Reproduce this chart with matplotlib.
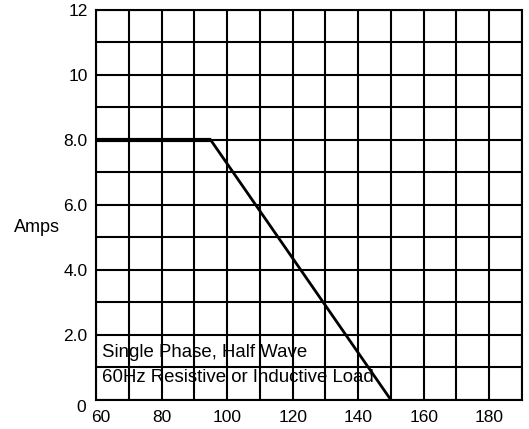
import matplotlib
matplotlib.use("Agg")
import matplotlib.pyplot as plt
import matplotlib.transforms as mtransforms
import numpy as np

# derating curve
temp = [60, 95, 150]
amps = [8.0, 8.0, 0.0]

xticks = [60, 80, 100, 120, 140, 160, 180]
yticks = [0, 2, 4, 6, 8, 10, 12]
ylabels = ["0", "2.0", "4.0", "6.0", "8.0", "10", "12"]

plt.rcParams['font.family'] = ['Liberation Sans', 'DejaVu Sans']

fig = plt.figure(figsize=(5.29, 4.29), dpi=100)
ax = fig.add_axes([0.1815, 0.0676, 0.8053, 0.9091])

ax.set_xlim(60, 190)
ax.set_ylim(0, 12)

# grid: every 10 on x, every 1 on y
for gx in np.arange(60, 191, 10):
    ax.axvline(gx, color='black', lw=1.5, zorder=1)
for gy in np.arange(0, 13, 1):
    ax.axhline(gy, color='black', lw=1.5, zorder=1)

# flat part drawn heavier, slope thinner
ax.plot(temp[:2], amps[:2], color='black', lw=3, solid_capstyle='butt', zorder=3)
ax.plot(temp[1:], amps[1:], color='black', lw=2, zorder=3)

ax.set_xticks(xticks)
ax.set_yticks(yticks)
ax.set_yticklabels(ylabels)
ax.tick_params(length=0, labelsize=12.5)
ax.tick_params(axis='y', pad=6)
ax.tick_params(axis='x', pad=7.5)
for s in ax.spines.values():
    s.set_linewidth(1.5)

# the first labels sit a little off in the original
xl = ax.get_xticklabels()
xl[0].set_transform(xl[0].get_transform() + mtransforms.ScaledTranslation(0.05, 0, fig.dpi_scale_trans))
yl = ax.get_yticklabels()
yl[0].set_transform(yl[0].get_transform() + mtransforms.ScaledTranslation(-0.02, -0.06, fig.dpi_scale_trans))

ax.text(61.9, 1.46, "Single Phase, Half Wave", fontsize=13.4, va='center')
ax.text(61.9, 0.70, "60Hz Resistive or Inductive Load", fontsize=13.4, va='center')

fig.text(37 / 529, 1 - 228 / 429, "Amps", fontsize=13, ha='center', va='center')

fig.savefig("out.png", dpi=100)
